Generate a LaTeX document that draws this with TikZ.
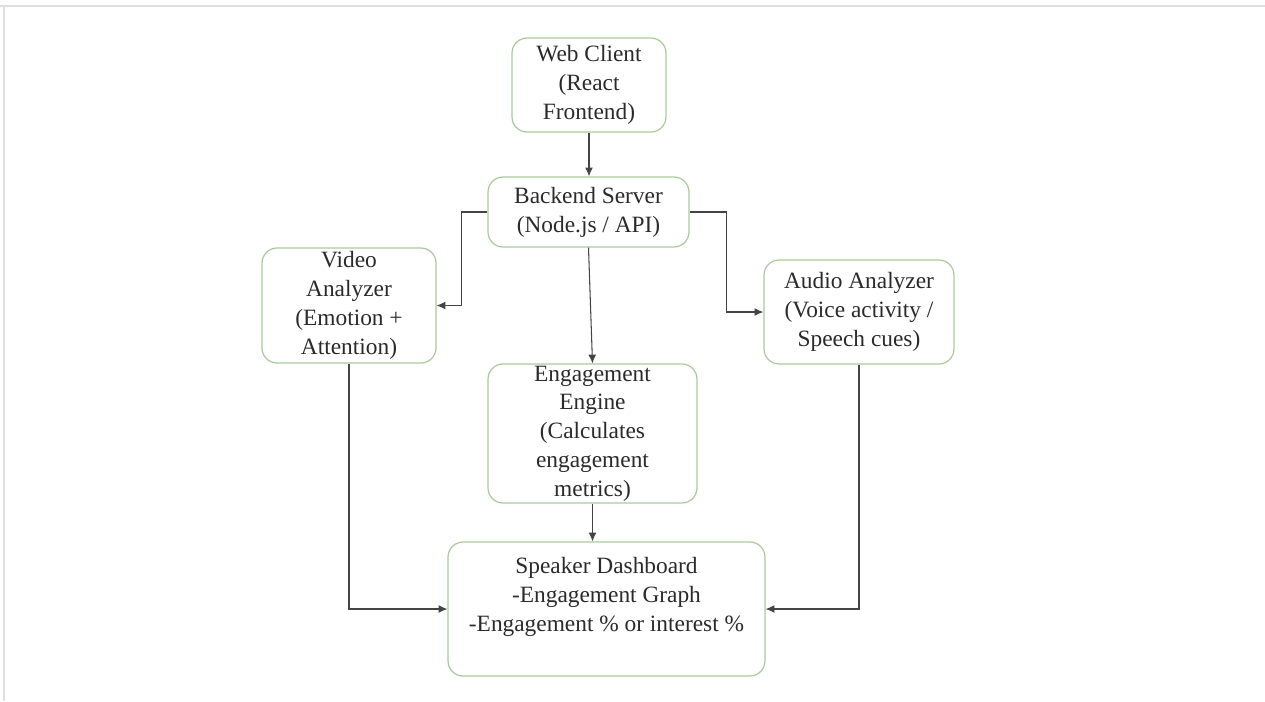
\documentclass[tikz,border=0pt]{standalone}
\usepackage{fontspec}
\setmainfont{Liberation Serif}
\usetikzlibrary{arrows,arrows.meta,calc}
\definecolor{BoxGreen}{HTML}{ABC99C}
\definecolor{LineGray}{HTML}{444444}
\definecolor{TextGray}{HTML}{2A2A2A}
\definecolor{FrameGray}{HTML}{E2DEDE}
\tikzset{
    block/.style = {draw=BoxGreen, rectangle, rounded corners=0.3cm,
        line width=0.7pt, inner sep=0pt, align=center, text=TextGray,
        font=\fontsize{13.3}{16.4}\selectfont},
    arrow/.style = {draw=LineGray, line width=0.6pt, -{Latex[length=5pt,width=4.5pt]}}
}
\begin{document}
\begin{tikzpicture}[x=0.02cm,y=-0.02cm]
                    \useasboundingbox (0,0) rectangle (1265,701);
                    \draw[FrameGray,line width=1.5pt] (0,6) -- (1265,6);
                    \draw[FrameGray,line width=1.5pt] (4,6) -- (4,701);
                    \node[block,minimum width=3.08cm,minimum height=1.88cm] (web) at (589,85) {Web Client\\(React\\Frontend)};
                    \node[block,minimum width=4.02cm,minimum height=1.40cm] (backend) at (588.5,212) {Backend Server\\(Node.js / API)};
                    \node[block,minimum width=3.48cm,minimum height=2.30cm] (video) at (349,305.5) {Video\\Analyzer\\(Emotion +\\Attention)};
                    \node[block,minimum width=3.80cm,minimum height=2.08cm] (audio) at (859,312) {Audio Analyzer\\(Voice activity /\\Speech cues)};
                    \node[block,minimum width=4.18cm,minimum height=2.78cm] (engine) at (592.5,433.5) {Engagement\\Engine\\(Calculates\\engagement\\metrics)};
                    \node[block,minimum width=6.34cm,minimum height=2.68cm] (dash) at (606.5,609) {Speaker Dashboard\\-Engagement Graph\\-Engagement \% or interest \%\\~};
                    \draw[arrow] (web.south) -- (web.south |- backend.north);
                    \draw[arrow] (backend.west) -- ++(-26,0) |- (video.east);
                    \draw[arrow] (backend.east) -- ++(37,0) |- (audio.west);
                    \draw[arrow] (backend.south) -- (engine.north);
                    \draw[arrow] (engine.south) -- (engine.south |- dash.north);
                    \draw[arrow] (video.south) |- (dash.west);
                    \draw[arrow] (audio.south) |- (dash.east);
                    \end{tikzpicture}
\end{document}
